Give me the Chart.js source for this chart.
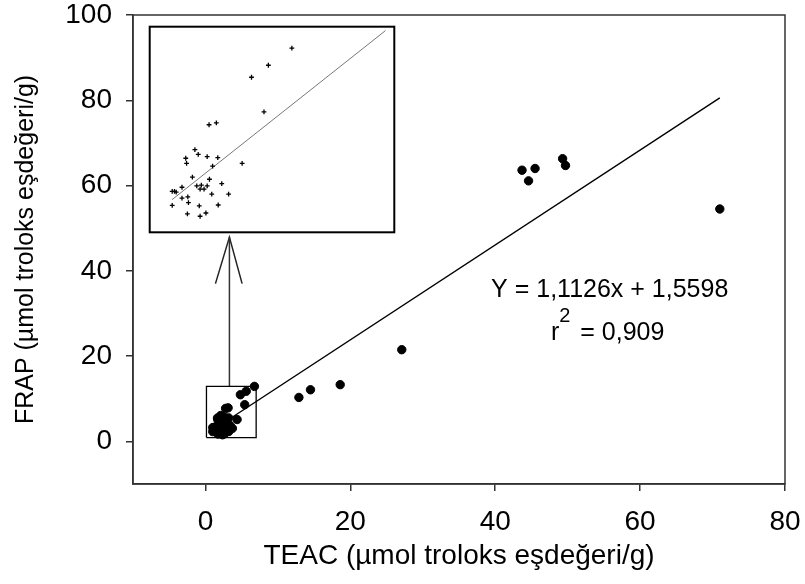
<!DOCTYPE html>
<html>
<head>
<meta charset="utf-8">
<script src="https://cdn.jsdelivr.net/npm/chart.js@4.4.0/dist/chart.umd.min.js"></script>
<style>
  html, body { margin: 0; padding: 0; background: #fff; }
  #wrap { position: relative; width: 805px; height: 584px; }
  #inset { position: absolute; }
</style>
</head>
<body>
<div id="wrap">
  <canvas id="main" width="805" height="584"></canvas>
  <canvas id="inset"></canvas>
</div>
<script>
// TEAC / FRAP values (µmol troloks eşdeğeri/g)
const teac = [12.9, 14.5, 18.6, 27.1, 43.7, 44.6, 45.5, 49.3, 49.7, 71.0];
const frap = [10.3, 12.1, 13.3, 21.5, 63.6, 61.1, 64.0, 66.3, 64.7, 54.5];

// low-value cluster, also shown magnified in the inset
const clusterTeac = [6.76, 5.63, 4.82, 5.42, 2.78, 3.13, 2.10, 2.26, 1.66, 1.70,
  2.69, 3.20, 2.95, 4.37, 1.98, 2.80, 3.39, 2.19, 2.41, 2.69, 1.48, 2.35, 2.54,
  1.01, 1.12, 1.20, 1.48, 1.76, 2.91, 3.72, 1.01, 1.79, 2.31, 3.22, 1.74, 2.35, 2.63];
const clusterFrap = [12.90, 11.75, 10.94, 8.60, 7.73, 7.86, 6.05, 5.73, 5.47, 5.12,
  5.58, 5.51, 4.94, 5.12, 4.20, 4.05, 3.75, 3.60, 3.66, 3.60, 3.51, 3.38, 3.38,
  3.23, 3.23, 3.18, 2.77, 2.86, 3.05, 3.05, 2.29, 2.47, 2.25, 2.31, 1.71, 1.55, 1.77];

// regression line end points
const fitTeac = [1.0, 71.0];
const fitFrap = [2.67, 80.55];
const insetFitTeac = [1.0, 11.26];
const insetFitFrap = [2.67, 14.09];

const xTicks = [0, 20, 40, 60, 80];
const yTicks = [0, 20, 40, 60, 80, 100];

const equationText = "Y = 1,1126x + 1,5598";
const r2Value = "= 0,909";

// annotation geometry (main chart units)
const zoomBox = { x0: 0.14, x1: 7.0, y0: 0.9, y1: 12.9 };
const insetFrame = { x0: -8.28, x1: 26.76, y0: 47.9, y1: 98.4 };
const arrowX = 3.31;
const insetRange = { xMin: -0.12, xMax: 11.73, yMin: 0.40, yMax: 14.42 };

const FONT = "'Liberation Sans', Arial, sans-serif";
Chart.defaults.font.family = FONT;
Chart.defaults.color = "#000";

function pts(xs, ys) {
  return xs.map((x, i) => ({ x: x, y: ys[i] }));
}

// box around the plotting area (top and right sides too)
const framePlugin = {
  id: "frame",
  afterDatasetsDraw(chart, args, opts) {
    const a = chart.chartArea;
    const ctx = chart.ctx;
    ctx.save();
    ctx.strokeStyle = opts.color || "#333";
    ctx.lineWidth = opts.width || 1.5;
    const w = ctx.lineWidth / 2;
    if (opts.inside) {
      ctx.strokeRect(a.left + w, a.top + w, a.right - a.left - 2 * w, a.bottom - a.top - 2 * w);
    } else {
      ctx.strokeRect(a.left, a.top, a.right - a.left, a.bottom - a.top);
    }
    ctx.restore();
  },
};

// regression equation text
const equationPlugin = {
  id: "equation",
  afterDraw(chart) {
    const ctx = chart.ctx;
    const x = chart.scales.x;
    const y = chart.scales.y;
    const cx = x.getPixelForValue(55.8);
    ctx.save();
    ctx.fillStyle = "#000";
    ctx.textBaseline = "alphabetic";
    ctx.font = "25px " + FONT;
    ctx.textAlign = "center";
    ctx.fillText(equationText, cx, y.getPixelForValue(33.8));

    // r² line with a raised superscript
    const base = y.getPixelForValue(23.7);
    ctx.textAlign = "left";
    const wr = ctx.measureText("r").width;
    const wv = ctx.measureText("  " + r2Value).width;
    ctx.font = "20px " + FONT;
    const w2 = ctx.measureText("2").width;
    const startX = cx - (wr + w2 + wv) / 2;
    ctx.font = "25px " + FONT;
    ctx.fillText("r", startX, base);
    ctx.font = "20px " + FONT;
    ctx.fillText("2", startX + wr, base - 18);
    ctx.font = "25px " + FONT;
    ctx.fillText("  " + r2Value, startX + wr + w2 - 4, base);
    ctx.restore();
  },
};

const mainChart = new Chart(document.getElementById("main"), {
  type: "scatter",
  data: {
    datasets: [
      {
        label: "FRAP",
        data: pts(teac, frap).concat(pts(clusterTeac, clusterFrap)),
        backgroundColor: "#000",
        borderColor: "#000",
        pointRadius: 4.2,
        pointHoverRadius: 4.2,
      },
      {
        label: "fit",
        data: pts(fitTeac, fitFrap),
        showLine: true,
        borderColor: "#000",
        borderWidth: 1.4,
        pointRadius: 0,
      },
      {
        label: "box",
        data: [
          { x: zoomBox.x0, y: zoomBox.y0 }, { x: zoomBox.x1, y: zoomBox.y0 },
          { x: zoomBox.x1, y: zoomBox.y1 }, { x: zoomBox.x0, y: zoomBox.y1 },
          { x: zoomBox.x0, y: zoomBox.y0 },
        ],
        showLine: true,
        borderColor: "#000",
        borderWidth: 1.3,
        pointRadius: 0,
      },
      {
        label: "arrow",
        data: [{ x: arrowX, y: zoomBox.y1 }, { x: arrowX, y: insetFrame.y0 }],
        showLine: true,
        borderColor: "#333",
        borderWidth: 1.5,
        pointRadius: 0,
      },
      {
        label: "arrowhead",
        data: [{ x: 1.38, y: 37.0 }, { x: arrowX, y: insetFrame.y0 }, { x: 5.06, y: 37.0 }],
        showLine: true,
        borderColor: "#222",
        borderWidth: 1.5,
        pointRadius: 0,
      },
    ],
  },
  options: {
    responsive: false,
    animation: false,
    layout: { padding: { top: 15, right: 20, left: 0, bottom: 0 } },
    plugins: {
      legend: { display: false },
      tooltip: { enabled: false },
      frame: { color: "#333", width: 1.5 },
    },
    scales: {
      x: {
        type: "linear",
        min: -10,
        max: 80,
        afterBuildTicks: (scale) => { scale.ticks = xTicks.map((v) => ({ value: v })); },
        afterFit: (scale) => {
          scale.height = 100;
          scale.paddingLeft = 0;
          scale.paddingRight = 0;
        },
        grid: { drawOnChartArea: false, drawTicks: true, tickLength: 7, color: "#333", lineWidth: 1.5 },
        border: { display: true, color: "#333", width: 1.5 },
        ticks: { font: { size: 28, lineHeight: 1 }, padding: 17, color: "#000" },
        title: {
          display: true,
          text: "TEAC (µmol troloks eşdeğeri/g)",
          font: { size: 28 },
          padding: { top: 0, bottom: 11 },
          color: "#000",
        },
      },
      y: {
        type: "linear",
        min: -10,
        max: 100,
        afterBuildTicks: (scale) => { scale.ticks = yTicks.map((v) => ({ value: v })); },
        afterFit: (scale) => {
          scale.width = 133;
          scale.paddingTop = 0;
          scale.paddingBottom = 0;
        },
        grid: { drawOnChartArea: false, drawTicks: true, tickLength: 7, color: "#333", lineWidth: 1.5 },
        border: { display: true, color: "#333", width: 1.5 },
        ticks: { font: { size: 28, lineHeight: 1 }, padding: 14, color: "#000" },
        title: {
          display: true,
          text: "FRAP (µmol troloks eşdeğeri/g)",
          font: { size: 25 },
          padding: { top: 11, bottom: 0 },
          color: "#000",
        },
      },
    },
  },
  plugins: [framePlugin, equationPlugin],
});

// place the inset over the main chart using its own scales
const sx = mainChart.scales.x;
const sy = mainChart.scales.y;
const insetLeft = Math.round(sx.getPixelForValue(insetFrame.x0));
const insetRight = Math.round(sx.getPixelForValue(insetFrame.x1));
const insetTop = Math.round(sy.getPixelForValue(insetFrame.y1));
const insetBottom = Math.round(sy.getPixelForValue(insetFrame.y0));

const insetCanvas = document.getElementById("inset");
insetCanvas.width = insetRight - insetLeft;
insetCanvas.height = insetBottom - insetTop;
insetCanvas.style.left = insetLeft + "px";
insetCanvas.style.top = insetTop + "px";

const insetChart = new Chart(insetCanvas, {
  type: "scatter",
  data: {
    datasets: [
      {
        label: "cluster",
        data: pts(clusterTeac, clusterFrap),
        pointStyle: "cross",
        pointRadius: 2.4,
        pointHoverRadius: 2.4,
        borderColor: "#000",
        borderWidth: 1.3,
      },
      {
        label: "fit",
        data: pts(insetFitTeac, insetFitFrap),
        showLine: true,
        borderColor: "#777",
        borderWidth: 1,
        pointRadius: 0,
      },
    ],
  },
  options: {
    responsive: false,
    animation: false,
    layout: { padding: 0 },
    plugins: {
      legend: { display: false },
      tooltip: { enabled: false },
      frame: { color: "#000", width: 2, inside: true },
    },
    scales: {
      x: { type: "linear", display: false, min: insetRange.xMin, max: insetRange.xMax },
      y: { type: "linear", display: false, min: insetRange.yMin, max: insetRange.yMax },
    },
  },
  plugins: [framePlugin],
});
</script>
</body>
</html>
